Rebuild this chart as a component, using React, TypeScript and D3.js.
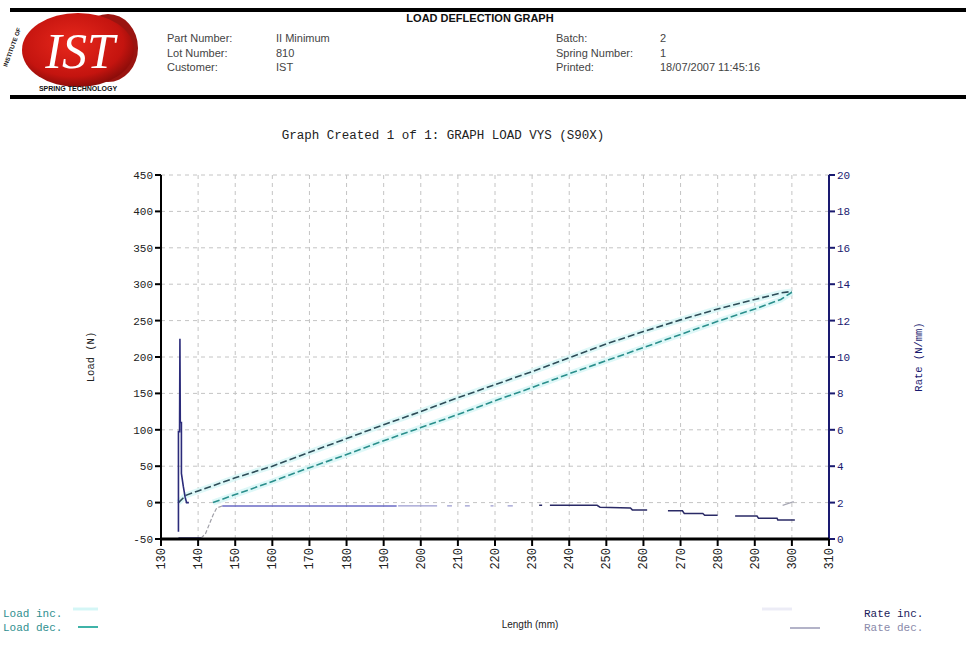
import React from "react";
import * as d3 from "d3";

// ---------- data ----------
const xTicks = [130, 140, 150, 160, 170, 180, 190, 200, 210, 220, 230, 240, 250, 260, 270, 280, 290, 300, 310];
const loadTicks = [-50, 0, 50, 100, 150, 200, 250, 300, 350, 400, 450];
const rateTicks = [0, 2, 4, 6, 8, 10, 12, 14, 16, 18, 20];

// Load (N) vs Length (mm)
const loadUpperLen = [134.7, 136.7, 140, 150, 160, 170, 180, 190, 200, 210, 220, 230, 240, 250, 260, 270, 280, 290, 297, 300];
const loadUpperVal = [0, 10, 16, 34, 50, 69, 88, 107, 125, 144, 162, 180, 199, 218, 235, 251, 266, 279, 288, 290];
const loadLowerLen = [144, 150, 160, 170, 180, 190, 200, 210, 220, 230, 240, 250, 260, 270, 280, 290, 297, 300];
const loadLowerVal = [0, 11, 29, 48, 66, 85, 103, 121, 140, 158, 177, 195, 213, 231, 249, 266, 279, 289];

// Rate (N/mm) vs Length (mm)
const rateSpikeLen = [134.7, 134.7, 135.0, 135.1, 135.2, 135.5, 135.5, 136.0, 136.5, 136.9, 137.5];
const rateSpikeVal = [0.4, 5.9, 5.9, 11.0, 6.4, 6.4, 3.6, 2.9, 2.3, 2.0, 2.0];
const rateBaseLen = [134.7, 140.8];
const rateBaseVal = [0.05, 0.05];
const rateRiseLen = [140.8, 142, 143, 144, 145, 146.5];
const rateRiseVal = [0.05, 0.3, 0.8, 1.3, 1.7, 1.82];
const rateFlatLen = [146.5, 193.5];
const rateFlatVal = [1.82, 1.82];
const rateTailLen = [193.9, 204.4, null, 207.1, 208.4, null, 211.9, 213.2, null, 218.8, 219.6, null, 223.4, 224.8];
const rateTailVal = [1.82, 1.82, null, 1.82, 1.82, null, 1.82, 1.82, null, 1.82, 1.82, null, 1.82, 1.82];
const rateDecLen = [231.9, 232.7, null, 234.8, 247.5, 248.3, 256.5, 257.0, 261.0, null, 266.6, 270.5, 271.0, 276.0, 276.5, 280.0, null, 284.7, 290.6, 291.0, 296.0, 296.2, 300.8];
const rateDecVal = [1.85, 1.85, null, 1.85, 1.85, 1.75, 1.7, 1.6, 1.6, null, 1.55, 1.55, 1.4, 1.4, 1.3, 1.3, null, 1.26, 1.26, 1.14, 1.14, 1.05, 1.05];
const rateEndLen = [297.5, 300.5];
const rateEndVal = [1.85, 2.05];

const headerLeftLabels = ["Part Number:", "Lot Number:", "Customer:"];
const headerLeftValues = ["II Minimum", "810", "IST"];
const headerRightLabels = ["Batch:", "Spring Number:", "Printed:"];
const headerRightValues = ["2", "1", "18/07/2007 11:45:16"];

// ---------- layout ----------
const W = 968, H = 646;
const PL = 161, PR = 829, PT = 175, PB = 539;
const mono = "'Liberation Mono', 'DejaVu Sans Mono', monospace";
const sans = "'Liberation Sans', Arial, sans-serif";

const x = d3.scaleLinear().domain([130, 310]).range([PL, PR]);
const yL = d3.scaleLinear().domain([-50, 450]).range([PB, PT]);
const yR = d3.scaleLinear().domain([0, 20]).range([PB, PT]);

type P = [number | null, number | null];
const zip = (a: (number | null)[], b: (number | null)[]): P[] => a.map((v, i) => [v, b[i]]);

const lineL = d3.line<P>().defined(d => d[0] != null && d[1] != null).x(d => x(d[0] as number)).y(d => yL(d[1] as number));
const lineR = d3.line<P>().defined(d => d[0] != null && d[1] != null).x(d => x(d[0] as number)).y(d => yR(d[1] as number));

export default function App() {
  const up = lineL(zip(loadUpperLen, loadUpperVal)) || "";
  const lo = lineL(zip(loadLowerLen, loadLowerVal)) || "";
  return (
    <svg width={W} height={H} style={{ position: "absolute", left: 0, top: 0, background: "#fff" }}>
      <defs>
        <radialGradient id="logoG" cx="0.45" cy="0.4" r="0.65">
          <stop offset="0" stopColor="#e8281c" />
          <stop offset="0.7" stopColor="#c4140f" />
          <stop offset="1" stopColor="#7a0a08" />
        </radialGradient>
      </defs>
      {/* header */}
      <rect x={10} y={8} width={956} height={4} fill="#000" />
      <rect x={10} y={95} width={956} height={4} fill="#000" />
      <ellipse cx={108} cy={48} rx={30} ry={34} fill="#9a1410" />
      <ellipse cx={78} cy={50} rx={56} ry={37} fill="url(#logoG)" />
      <text x={80} y={68} textAnchor="middle" fill="#fff" fontFamily="'Liberation Serif', serif" fontStyle="italic" fontSize={50}>IST</text>
      <text x={78} y={91} textAnchor="middle" fill="#111" fontFamily={sans} fontWeight="bold" fontSize={7}>SPRING TECHNOLOGY</text>
      <text x={14} y={48} transform="rotate(-70 14 48)" textAnchor="middle" fill="#111" fontFamily={sans} fontWeight="bold" fontSize={6}>INSTITUTE OF</text>
      <text x={480} y={22} textAnchor="middle" fontFamily={sans} fontWeight="bold" fontSize={11} fill="#111">LOAD DEFLECTION GRAPH</text>
      {headerLeftLabels.map((t, i) => (
        <text key={"hl" + i} x={167} y={42 + i * 14.5} fontFamily={sans} fontSize={11} fill="#444">{t}</text>
      ))}
      {headerLeftValues.map((t, i) => (
        <text key={"hv" + i} x={276} y={42 + i * 14.5} fontFamily={sans} fontSize={11} fill="#444">{t}</text>
      ))}
      {headerRightLabels.map((t, i) => (
        <text key={"hr" + i} x={556} y={42 + i * 14.5} fontFamily={sans} fontSize={11} fill="#444">{t}</text>
      ))}
      {headerRightValues.map((t, i) => (
        <text key={"hrv" + i} x={660} y={42 + i * 14.5} fontFamily={sans} fontSize={11} fill="#444">{t}</text>
      ))}

      {/* chart title */}
      <text x={443} y={139} textAnchor="middle" fontFamily={mono} fontSize={12.5} fill="#222">Graph Created 1 of 1:  GRAPH LOAD VYS (S90X)</text>

      {/* grid */}
      {xTicks.slice(1, -1).map(t => (
        <line key={"gx" + t} x1={x(t)} x2={x(t)} y1={PT} y2={PB} stroke="#c4c4c4" strokeDasharray="4,4" />
      ))}
      {loadTicks.slice(1).map(t => (
        <line key={"gy" + t} x1={PL} x2={PR} y1={yL(t)} y2={yL(t)} stroke="#c4c4c4" strokeDasharray="4,4" />
      ))}

      {/* load lines */}
      <path d={up} fill="none" stroke="#d6f6f6" strokeWidth={6} opacity={0.8} />
      <path d={lo} fill="none" stroke="#d6f6f6" strokeWidth={6} opacity={0.8} />
      <path d={up} fill="none" stroke="#2e4d58" strokeWidth={1.6} strokeDasharray="7,3" />
      <path d={lo} fill="none" stroke="#2b8f8c" strokeWidth={1.6} strokeDasharray="7,3" />

      {/* rate lines */}
      <path d={lineR(zip(rateBaseLen, rateBaseVal)) || ""} fill="none" stroke="#2b2b7a" strokeWidth={1.5} />
      <path d={lineR(zip(rateRiseLen, rateRiseVal)) || ""} fill="none" stroke="#a0a0a8" strokeWidth={1.2} strokeDasharray="4,2" />
      <path d={lineR(zip(rateFlatLen, rateFlatVal)) || ""} fill="none" stroke="#6a6ac4" strokeWidth={1.5} />
      <path d={lineR(zip(rateTailLen, rateTailVal)) || ""} fill="none" stroke="#9a9ad0" strokeWidth={1.3} />
      <path d={lineR(zip(rateDecLen, rateDecVal)) || ""} fill="none" stroke="#2a2a66" strokeWidth={1.5} />
      <path d={lineR(zip(rateEndLen, rateEndVal)) || ""} fill="none" stroke="#a8a8b4" strokeWidth={1.2} />
      <path d={lineR(zip(rateSpikeLen, rateSpikeVal)) || ""} fill="none" stroke="#2b2b7a" strokeWidth={1.6} />

      {/* axes */}
      <line x1={PL} x2={PL} y1={PT} y2={PB} stroke="#000" strokeWidth={2} />
      <line x1={PR} x2={PR} y1={PT} y2={PB} stroke="#1a1a70" strokeWidth={2} />
      <line x1={PL} x2={PR} y1={PB} y2={PB} stroke="#000" strokeWidth={3} />
      {loadTicks.map(t => (
        <g key={"lt" + t}>
          <line x1={PL - 6} x2={PL} y1={yL(t)} y2={yL(t)} stroke="#000" strokeWidth={2} />
          <text x={PL - 8} y={yL(t) + 4} textAnchor="end" fontFamily={mono} fontSize={11} fill="#222">{t}</text>
        </g>
      ))}
      {rateTicks.map(t => (
        <g key={"rt" + t}>
          <line x1={PR} x2={PR + 6} y1={yR(t)} y2={yR(t)} stroke="#1a1a70" strokeWidth={2} />
          <text x={PR + 8} y={yR(t) + 4} textAnchor="start" fontFamily={mono} fontSize={11} fill="#1a1a70">{t}</text>
        </g>
      ))}
      {xTicks.map(t => (
        <g key={"xt" + t}>
          <line x1={x(t)} x2={x(t)} y1={PB} y2={PB + 7} stroke="#000" strokeWidth={2} />
          <text x={0} y={0} transform={`translate(${x(t) + 4},${PB + 9}) rotate(-90)`} textAnchor="end" fontFamily={mono} fontSize={12} fill="#222">{t}</text>
        </g>
      ))}

      {/* axis titles */}
      <text x={0} y={0} transform={`translate(94,${(PT + PB) / 2}) rotate(-90)`} textAnchor="middle" fontFamily={mono} fontSize={10.5} fill="#222">Load (N)</text>
      <text x={0} y={0} transform={`translate(922,${(PT + PB) / 2}) rotate(-90)`} textAnchor="middle" fontFamily={mono} fontSize={10.5} fill="#1a1a70">Rate (N/mm)</text>
      <text x={530} y={628} textAnchor="middle" fontFamily={sans} fontSize={10} fill="#222">Length (mm)</text>

      {/* legend */}
      <text x={3} y={617} fontFamily={mono} fontSize={11} fill="#2f8f8f">Load inc.</text>
      <text x={3} y={631} fontFamily={mono} fontSize={11} fill="#2f8f8f">Load dec.</text>
      <line x1={73} x2={98} y1={609} y2={609} stroke="#d4f6f6" strokeWidth={3} />
      <line x1={78} x2={98} y1={627} y2={627} stroke="#3fb3a8" strokeWidth={2} />
      <text x={864} y={617} fontFamily={mono} fontSize={11} fill="#1a1a5a">Rate inc.</text>
      <text x={864} y={631} fontFamily={mono} fontSize={11} fill="#8a8aaa">Rate dec.</text>
      <line x1={762} x2={792} y1={609} y2={609} stroke="#ececf6" strokeWidth={3} />
      <line x1={790} x2={820} y1={628} y2={628} stroke="#9a9ab6" strokeWidth={1.5} />
    </svg>
  );
}
